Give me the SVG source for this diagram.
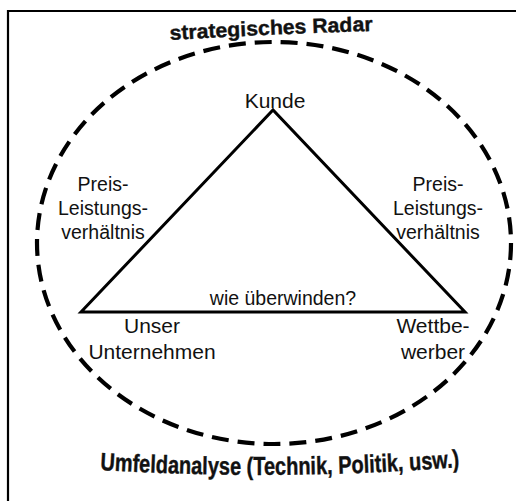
<svg xmlns="http://www.w3.org/2000/svg" width="516" height="501" viewBox="0 0 516 501">
<style>
.t{font-family:"Liberation Sans",Arial,sans-serif;font-size:19.5px;fill:#111;text-anchor:middle}
.b{font-family:"Liberation Sans",Arial,sans-serif;font-weight:bold;fill:#111}
.ln{fill:none;stroke:#000}
</style>
<defs>
<path id="arcTop" d="M170,40 Q270,34 373,31"/>
<path id="arcBot" d="M100,470 Q280,481 461,467"/>
</defs>
<rect width="516" height="501" fill="#fff"/>
<g id="frame"><path class="ln" stroke-width="2.2" d="M8,501 V11 H516"/></g>
<g id="radar"><ellipse class="ln" cx="274" cy="243" rx="237" ry="201" stroke-width="4.2" stroke-dasharray="17 9"/></g>
<g id="connectors">
<path class="ln" stroke-width="3" stroke-linejoin="miter" d="M81,312 L273,110 L465,312 Z"/>
</g>
<g id="title"><text class="b" font-size="20.5" stroke="#111" stroke-width="0.4"><textPath href="#arcTop" textLength="203" lengthAdjust="spacingAndGlyphs">strategisches Radar</textPath></text></g>
<g id="kunde"><text class="t" x="275" y="108" style="font-size:21px">Kunde</text></g>
<g id="pl-left"><text class="t" x="103" y="191">Preis-</text><text class="t" x="103" y="215">Leistungs-</text><text class="t" x="103" y="239">verhältnis</text></g>
<g id="pl-right"><text class="t" x="438" y="191">Preis-</text><text class="t" x="438" y="215">Leistungs-</text><text class="t" x="438" y="239">verhältnis</text></g>
<g id="edge-label"><text class="t" x="283" y="305" style="font-size:19.5px">wie überwinden?</text></g>
<g id="unternehmen"><text class="t" x="152" y="333" style="font-size:21px">Unser</text><text class="t" x="152" y="359" style="font-size:21px">Unternehmen</text></g>
<g id="wettbewerber"><text class="t" x="433" y="333" style="font-size:21px">Wettbe-</text><text class="t" x="433" y="359" style="font-size:21px">werber</text></g>
<g id="umfeld"><text class="b" font-size="25" stroke="#111" stroke-width="0.4"><textPath href="#arcBot" textLength="360" lengthAdjust="spacingAndGlyphs">Umfeldanalyse (Technik, Politik, usw.)</textPath></text></g>
</svg>
